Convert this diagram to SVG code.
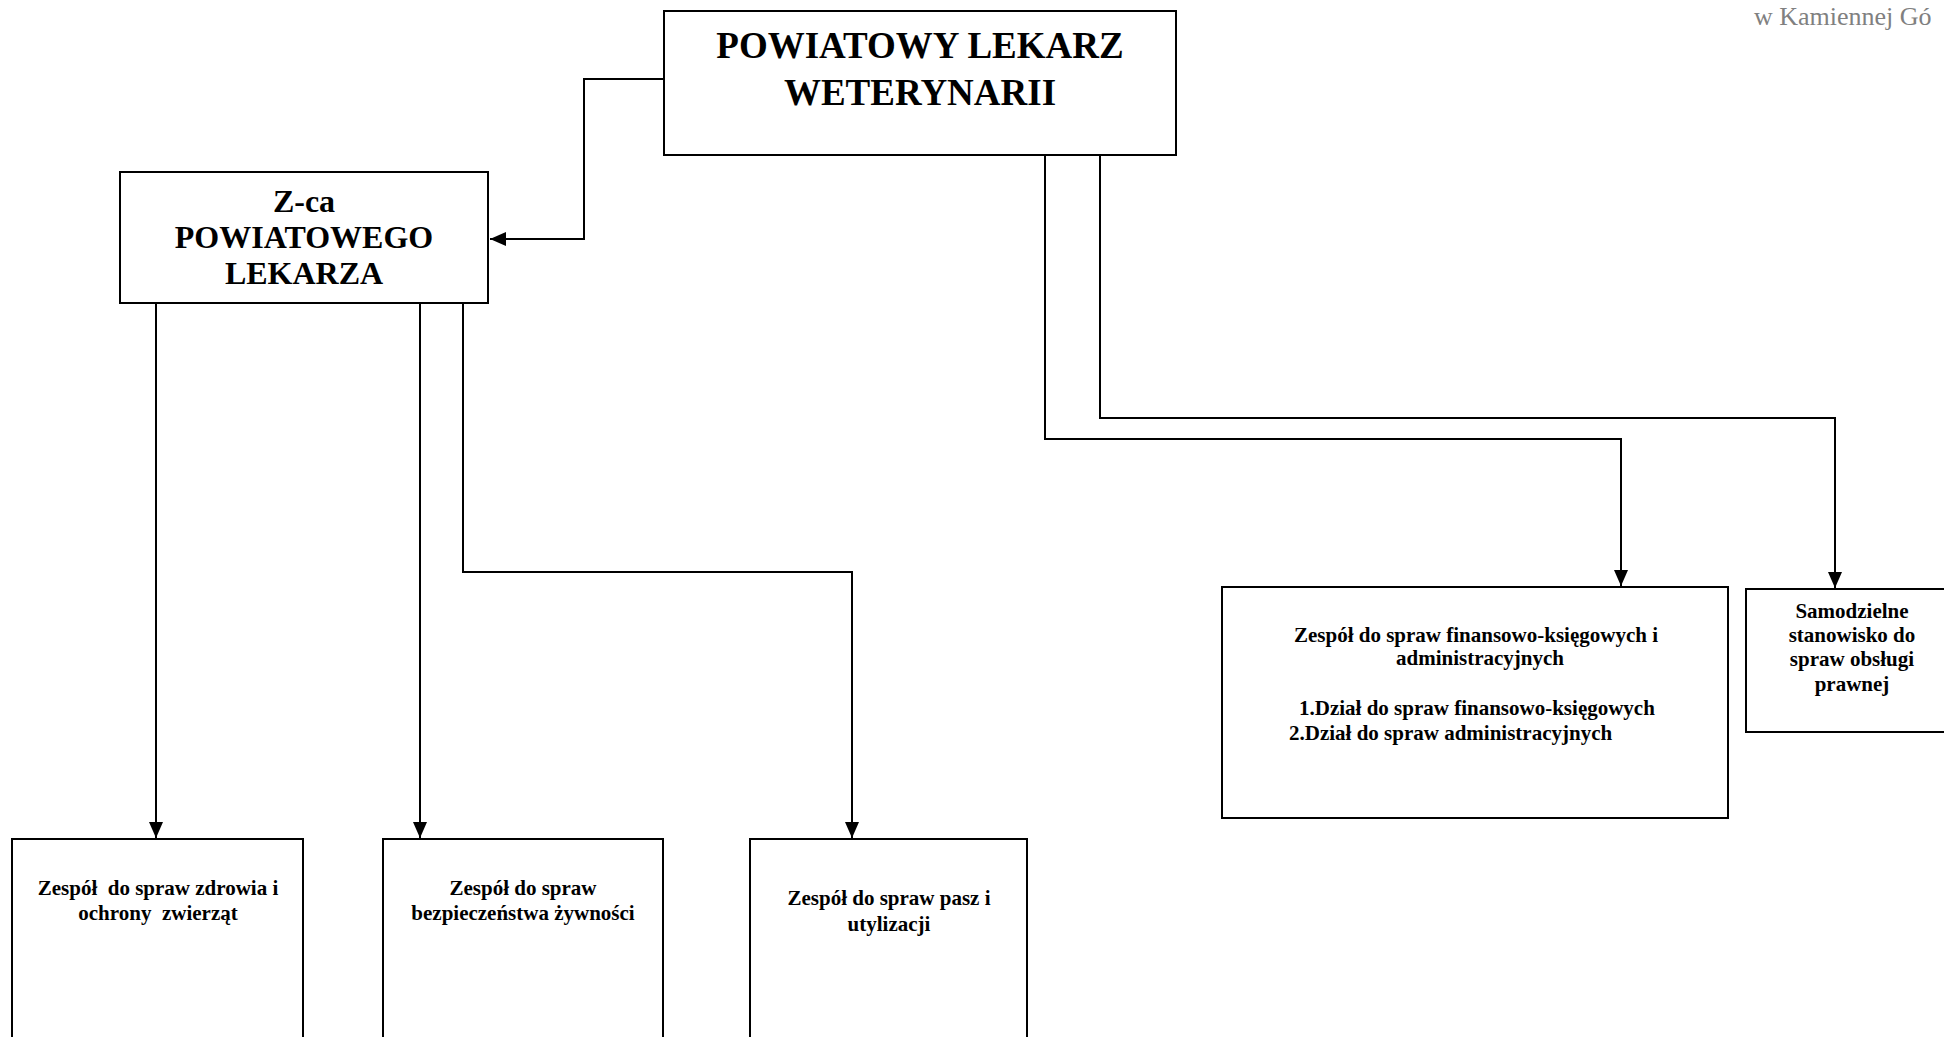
<svg xmlns="http://www.w3.org/2000/svg" width="1944" height="1037" viewBox="0 0 1944 1037">
<style>
.box{fill:#fff;stroke:#000;stroke-width:2}
.ln{fill:none;stroke:#000;stroke-width:2}
text{font-family:"Liberation Serif","Times New Roman",serif;font-weight:bold;fill:#000;white-space:pre}
.big{font-size:37px;text-anchor:middle}
.mid{font-size:32px;text-anchor:middle}
.sm{font-size:21px;text-anchor:middle}
.sml{font-size:21px;text-anchor:start}
.hdr{font-size:26px;font-weight:normal;fill:#808080}
</style>
<defs>
<marker id="arr" viewBox="0 0 16 14" markerWidth="16" markerHeight="14" refX="16" refY="7" orient="auto" markerUnits="userSpaceOnUse">
<path d="M0,0 L16,7 L0,14 z" fill="#000"/>
</marker>
</defs>
<rect width="1944" height="1037" fill="#fff"/>
<text class="hdr" x="1754" y="25">w Kamiennej Gó</text>
<g id="connectors">
<path class="ln" d="M664,79 H584 V239 H490" marker-end="url(#arr)"/>
<path class="ln" d="M1045,155 V439 H1621 V586" marker-end="url(#arr)"/>
<path class="ln" d="M1100,155 V418 H1835 V588" marker-end="url(#arr)"/>
<path class="ln" d="M156,303 V838" marker-end="url(#arr)"/>
<path class="ln" d="M420,303 V838" marker-end="url(#arr)"/>
<path class="ln" d="M463,303 V572 H852 V838" marker-end="url(#arr)"/>
</g>
<g id="plw">
<rect class="box" x="664" y="11" width="512" height="144"/>
<text class="big" x="920" y="58">POWIATOWY LEKARZ</text>
<text class="big" x="920" y="105">WETERYNARII</text>
</g>
<g id="zca">
<rect class="box" x="120" y="172" width="368" height="131"/>
<text class="mid" x="304" y="212">Z-ca</text>
<text class="mid" x="304" y="248">POWIATOWEGO</text>
<text class="mid" x="304" y="284">LEKARZA</text>
</g>
<g id="fin">
<rect class="box" x="1222" y="587" width="506" height="231"/>
<text class="sm" x="1476" y="642">Zespół do spraw finansowo-księgowych i</text>
<text class="sm" x="1480" y="665">administracyjnych</text>
<text class="sml" x="1299" y="715">1.Dział do spraw finansowo-księgowych</text>
<text class="sml" x="1289" y="740">2.Dział do spraw administracyjnych</text>
</g>
<g id="prawny">
<rect class="box" x="1746" y="589" width="212" height="143"/>
<text class="sm" x="1852" y="618">Samodzielne</text>
<text class="sm" x="1852" y="642">stanowisko do</text>
<text class="sm" x="1852" y="666">spraw obsługi</text>
<text class="sm" x="1852" y="691">prawnej</text>
</g>
<g id="zdrowie">
<rect class="box" x="12" y="839" width="291" height="210"/>
<text class="sm" x="158" y="895">Zespół  do spraw zdrowia i</text>
<text class="sm" x="158" y="920">ochrony  zwierząt</text>
</g>
<g id="zywnosc">
<rect class="box" x="383" y="839" width="280" height="210"/>
<text class="sm" x="523" y="895">Zespół do spraw</text>
<text class="sm" x="523" y="920">bezpieczeństwa żywności</text>
</g>
<g id="pasze">
<rect class="box" x="750" y="839" width="277" height="210"/>
<text class="sm" x="889" y="905">Zespół do spraw pasz i</text>
<text class="sm" x="889" y="931">utylizacji</text>
</g>
</svg>
